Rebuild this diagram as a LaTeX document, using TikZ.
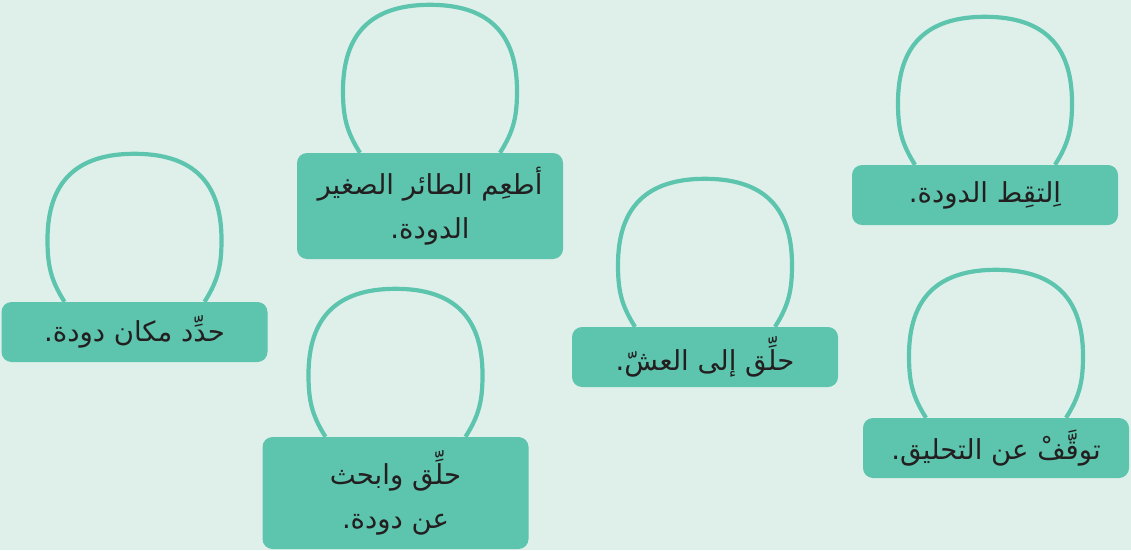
\documentclass[tikz,border=0pt]{standalone}
\usepackage{fontspec}
\usetikzlibrary{backgrounds}
\newfontfamily\arabicfont[Script=Arabic]{DejaVu Sans}
\TeXXeTstate=1
\definecolor{bgmint}{HTML}{DFF0EB}
\definecolor{boxteal}{HTML}{5DC4AD}
\definecolor{inkdark}{HTML}{231F20}
\tikzset{
  stepbox/.style={fill=boxteal, rounded corners=10pt, minimum width=266pt,
    minimum height=60pt, align=center, text=inkdark, inner sep=0pt,
    font=\arabicfont\fontsize{27.5}{44}\selectfont},
  loopline/.style={draw=boxteal, line width=4.2pt}
}
\begin{document}
\begin{tikzpicture}[x=1pt,y=1pt]
  \useasboundingbox (0,0) rectangle (1131,550);
  \node[stepbox, minimum height=106pt] (feed) at (430,344)
    {\beginR أطعِم الطائر الصغير\endR\\\beginR الدودة.\endR};
  \node[stepbox] (pick) at (985,355) {\beginR اِلتقِط الدودة.\endR};
  \node[stepbox] (locate) at (134.5,218) {\beginR حدِّد مكان دودة.\endR};
  \node[stepbox] (fly) at (705,193) {\beginR حلِّق إلى العشّ.\endR};
  \node[stepbox] (stop) at (996,102) {\beginR توقَّفْ عن التحليق.\endR};
  \node[stepbox, minimum height=112pt] (search) at (395.5,57)
    {\beginR حلِّق وابحث\endR\\\beginR عن دودة.\endR};
  \begin{scope}[on background layer]
    \fill[bgmint] (0,0) rectangle (1131,550);
    \foreach \n in {feed,pick,locate,fly,stop,search}
      \draw[loopline] ([xshift=-70pt]\n.north)
        .. controls +(-14,22) and +(0,-25) .. ([shift={(-87pt,62pt)}]\n.north)
        .. controls +(0,58) and +(-58,0) .. ([yshift=148pt]\n.north)
        .. controls +(58,0) and +(0,58) .. ([shift={(87pt,62pt)}]\n.north)
        .. controls +(0,-25) and +(14,22) .. ([xshift=70pt]\n.north);
  \end{scope}
\end{tikzpicture}
\end{document}
